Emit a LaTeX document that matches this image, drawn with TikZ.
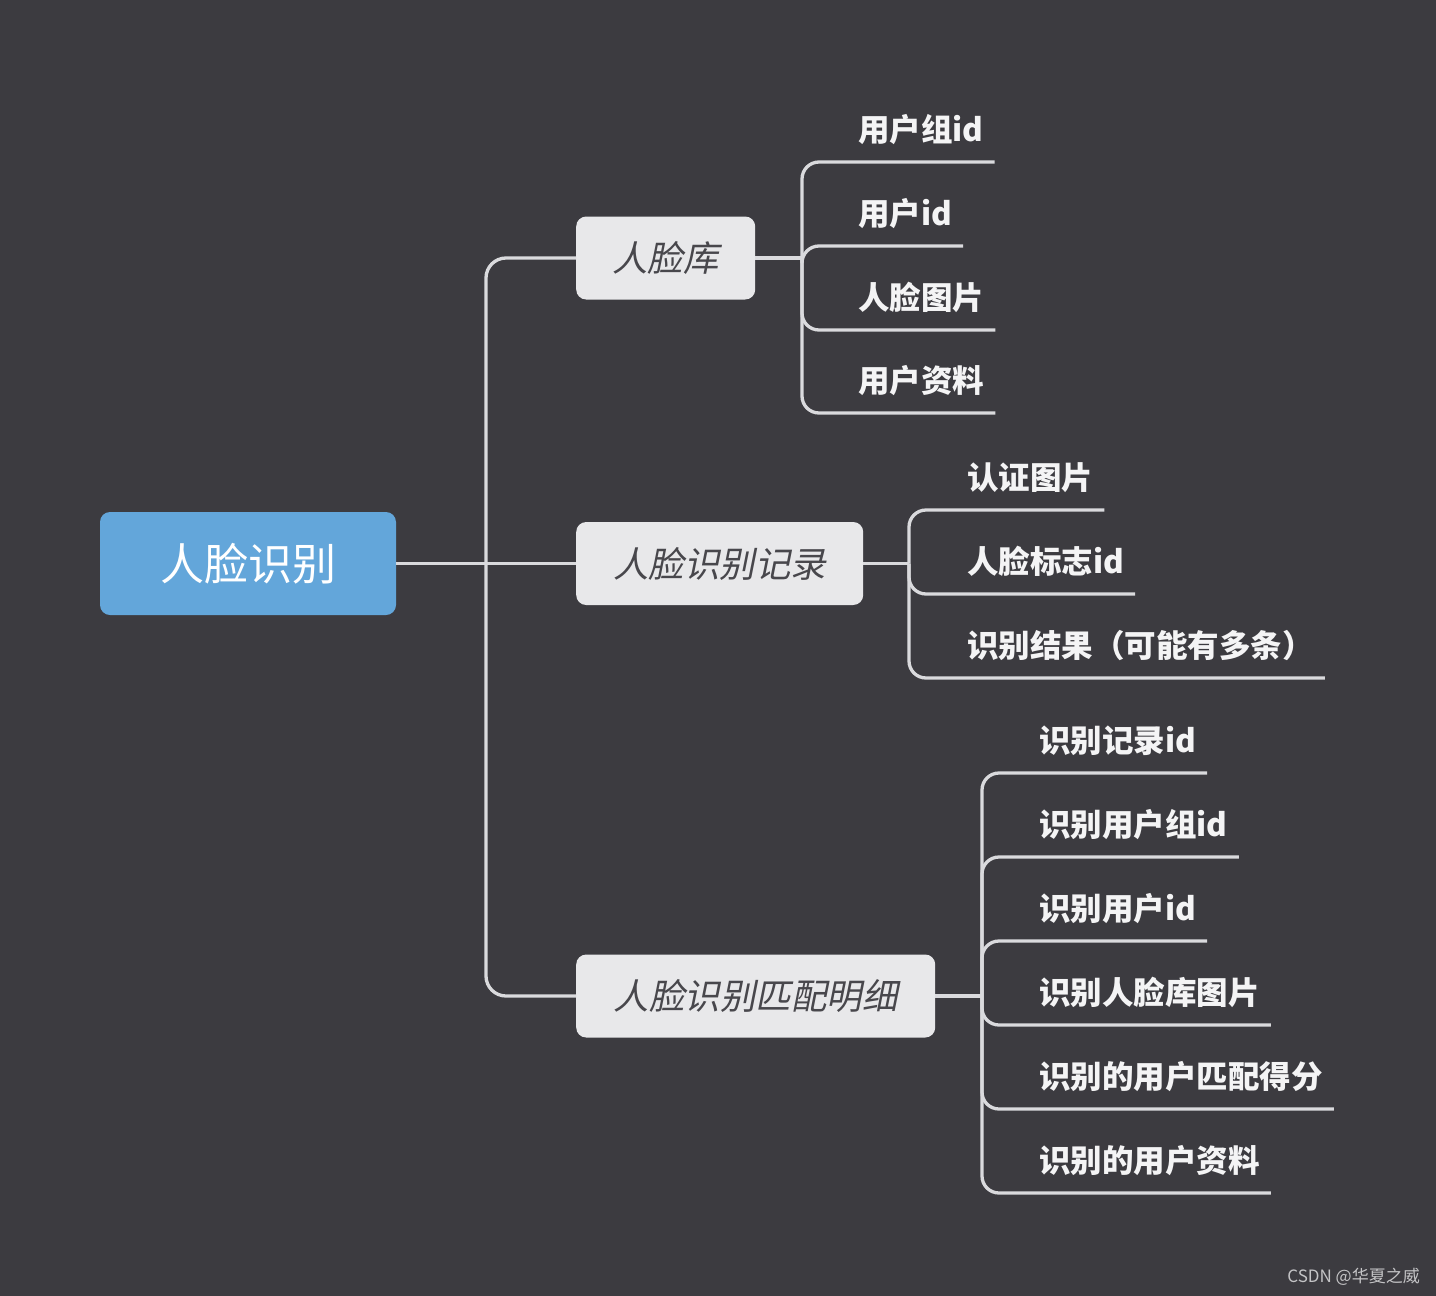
\documentclass[tikz,border=0pt]{standalone}
\usepackage{fontspec}
\newfontfamily\cjk{Noto Sans CJK SC}
\newfontfamily\cjkit{Noto Sans CJK SC}[FakeSlant=0.2]
\definecolor{bg}{HTML}{3C3B40}
\definecolor{rootc}{HTML}{63A6DA}
\definecolor{boxc}{HTML}{E8E8EA}
\definecolor{boxt}{HTML}{48474C}
\definecolor{linec}{HTML}{DADADD}
\definecolor{leafc}{HTML}{F4F4F5}
\definecolor{wm}{HTML}{C4C4C6}
\tikzset{
  conn/.style={draw=linec, line width=3.3pt, rounded corners=17pt},
  rootbox/.style={fill=rootc, rounded corners=10pt, minimum width=296pt, minimum height=103pt,
    text=white, font=\cjk\fontsize{44}{44}\selectfont, inner sep=0pt},
  branch/.style={fill=boxc, rounded corners=10pt, minimum height=83pt, anchor=west,
    text=boxt, font=\cjkit\fontsize{35.5}{36}\selectfont, inner sep=0pt},
  leaf/.style={anchor=south west, text=leafc, font=\cjk\bfseries\fontsize{31.5}{32}\selectfont,
    text height=26pt, text depth=6pt, inner xsep=11pt, inner ysep=14pt},
}
\begin{document}
\begin{tikzpicture}[x=1pt,y=-1pt]
\useasboundingbox (0,0) rectangle (1436,1296);
\fill[bg] (0,0) rectangle (1436,1296);

\node[rootbox] (root) at (248,563.5) {人脸识别};
\node[branch, minimum width=179pt] (b1) at (576,258) {人脸库};
\node[branch, minimum width=287pt] (b2) at (576,563.5) {人脸识别记录};
\node[branch, minimum width=359pt] (b3) at (576,996) {人脸识别匹配明细};

\coordinate (j0) at (486,563.5);
\coordinate (j1) at (802,258);
\coordinate (j2) at (909,563.5);
\coordinate (j3) at (982,996);

% trunk
\draw[conn] (root.east) -- (b2.west);
\draw[conn, rounded corners=20pt] (j0) |- (b1.west);
\draw[conn, rounded corners=20pt] (j0) |- (b3.west);

% group 1
\node[leaf] (l11) at (847,162) {用户组id};
\node[leaf] (l12) at (847,246) {用户id};
\node[leaf] (l13) at (847,330) {人脸图片};
\node[leaf] (l14) at (847,413) {用户资料};
\draw[conn] (b1.east) -- (j1);
\foreach \n in {l11,l12,l13,l14} \draw[conn] (j1) |- (\n.south east);

% group 2
\node[leaf] (l21) at (956,510) {认证图片};
\node[leaf] (l22) at (956,594) {人脸标志id};
\node[leaf] (l23) at (956,678) {识别结果（可能有多条）};
\draw[conn] (b2.east) -- (j2);
\foreach \n in {l21,l22,l23} \draw[conn] (j2) |- (\n.south east);

% group 3
\node[leaf] (l31) at (1028,773) {识别记录id};
\node[leaf] (l32) at (1028,857) {识别用户组id};
\node[leaf] (l33) at (1028,941) {识别用户id};
\node[leaf] (l34) at (1028,1025) {识别人脸库图片};
\node[leaf] (l35) at (1028,1109) {识别的用户匹配得分};
\node[leaf] (l36) at (1028,1193) {识别的用户资料};
\draw[conn] (b3.east) -- (j3);
\foreach \n in {l31,l32,l33,l34,l35,l36} \draw[conn] (j3) |- (\n.south east);

\node[anchor=east, text=wm, font=\cjk\fontsize{17}{17}\selectfont, inner sep=0pt] (wmk) at (1420,1277) {CSDN @华夏之威};
\end{tikzpicture}
\end{document}
